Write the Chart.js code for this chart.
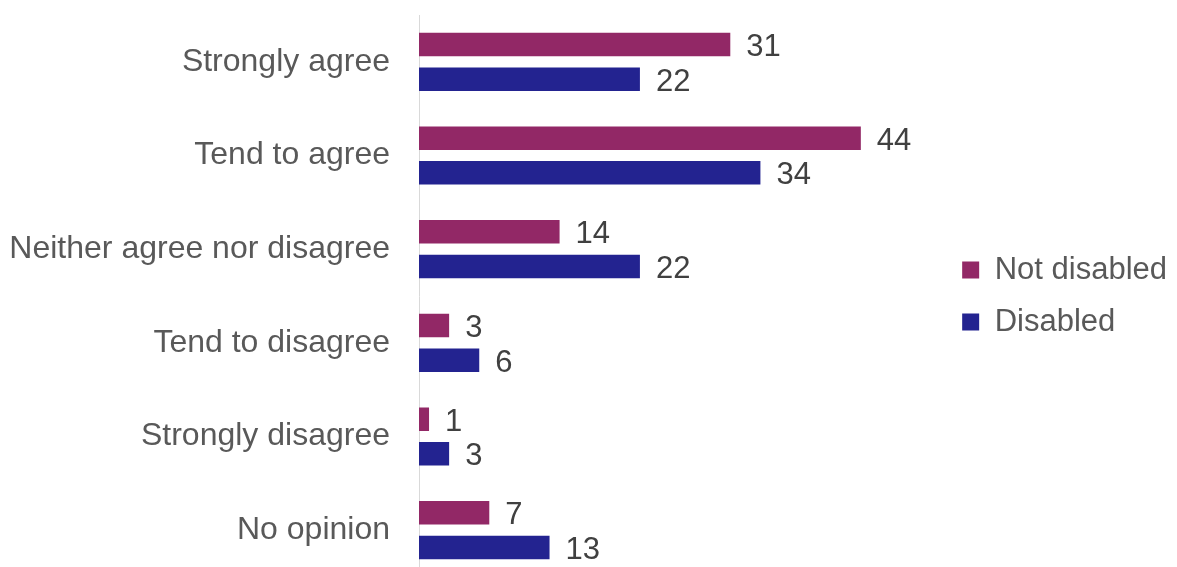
<!DOCTYPE html>
<html>
<head>
<meta charset="utf-8">
<script src="https://cdn.jsdelivr.net/npm/chart.js@4/dist/chart.umd.min.js"></script>
<style>
  html, body { margin: 0; padding: 0; background: #fff; overflow: hidden; }
  #wrap { position: relative; width: 1177px; height: 577px; }
</style>
</head>
<body>
<div id="wrap"><canvas id="myChart"></canvas></div>
<script>
// respostas por categoria (%)
const categories = ['Strongly agree', 'Tend to agree', 'Neither agree nor disagree', 'Tend to disagree', 'Strongly disagree', 'No opinion'];
const notDisabled = [31, 44, 14, 3, 1, 7];
const disabled = [22, 34, 22, 6, 3, 13];
const seriesNames = ['Not disabled', 'Disabled'];

const FONT = "'Liberation Sans', Arial, sans-serif";

// escreve o valor no fim de cada barra
const valueLabels = {
    id: 'valueLabels',
    afterDatasetsDraw(chart) {
        const ctx = chart.ctx;
        ctx.save();
        ctx.font = '31px ' + FONT;
        ctx.fillStyle = '#404040';
        ctx.textAlign = 'left';
        ctx.textBaseline = 'middle';
        chart.data.datasets.forEach((ds, i) => {
            chart.getDatasetMeta(i).data.forEach((bar, j) => {
                ctx.fillText(ds.data[j], bar.x + 16, bar.y + 3);
            });
        });
        ctx.restore();
    }
};

const ctx = document.getElementById('myChart').getContext('2d');
const myChart = new Chart(ctx, {
    type: 'bar',
    data: {
        labels: categories,
        datasets: [
            { label: seriesNames[0], data: notDisabled, backgroundColor: '#922866' },
            { label: seriesNames[1], data: disabled, backgroundColor: '#232390' }
        ]
    },
    options: {
        indexAxis: 'y',
        responsive: true,
        maintainAspectRatio: false,
        animation: false,
        categoryPercentage: 0.74,
        barPercentage: 0.68,
        layout: { padding: { top: 15, right: 0, bottom: 0, left: 0 } },
        scales: {
            x: { display: false, min: 0, max: 52 },
            y: {
                // largura fixa do eixo e sem espaço extra em cima/embaixo
                afterFit: s => { s.width = 419; s.paddingTop = 0; s.paddingBottom = 0; },
                grid: { display: false, drawTicks: false },
                border: { display: true, color: '#d9d9d9', width: 1 },
                ticks: { color: '#595959', padding: 29, font: { family: FONT, size: 32 } }
            }
        },
        plugins: {
            legend: {
                position: 'right',
                labels: {
                    boxWidth: 17,
                    boxHeight: 17,
                    padding: 21,
                    color: '#595959',
                    font: { family: FONT, size: 31 }
                }
            },
            tooltip: { enabled: false }
        }
    },
    plugins: [valueLabels]
});
</script>
</body>
</html>
